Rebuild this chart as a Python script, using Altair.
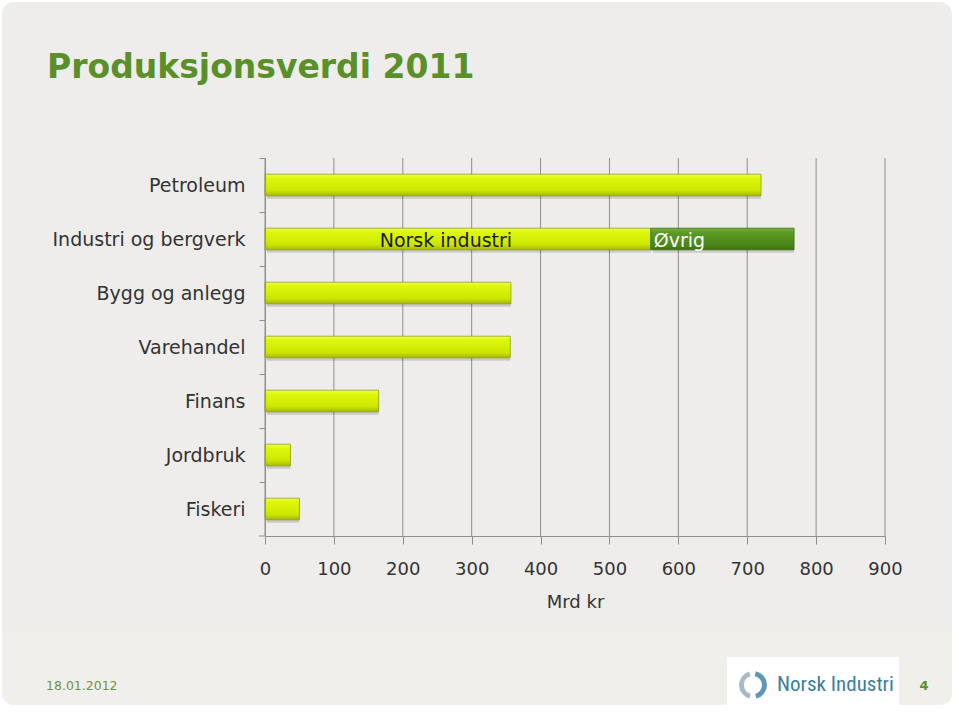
import altair as alt
import pandas as pd

# ---- data ----
categories = ["Petroleum", "Industri og bergverk", "Bygg og anlegg", "Varehandel",
              "Finans", "Jordbruk", "Fiskeri"]
main_values = [720, 560, 357, 356, 165, 37, 50]      # yellow segment (Mrd kr)
ovrig_values = [0, 208, 0, 0, 0, 0, 0]                # green "Øvrig" segment
segment_labels = ["Norsk industri", "Øvrig"]
x_ticks = [0, 100, 200, 300, 400, 500, 600, 700, 800, 900]
title_text = ["Produksjonsverdi 2011"]
date_text = ["18.01.2012"]
page_text = ["4"]
logo_text = ["Norsk Industri"]
axis_title = "Mrd kr"

FONT = "DejaVu Sans"

yellow = pd.DataFrame({"category": categories, "start": [0] * 7, "end": main_values})
green_rows = [(c, m, m + o) for c, m, o in zip(categories, main_values, ovrig_values) if o > 0]
green = pd.DataFrame(green_rows, columns=["category", "start", "end"])
lab_yellow = pd.DataFrame({"category": [green_rows[0][0]], "mid": [green_rows[0][1] / 2],
                           "label": [segment_labels[0]]})
lab_green = pd.DataFrame({"category": [green_rows[0][0]], "start": [green_rows[0][1]],
                          "label": [segment_labels[1]]})
grid_df = pd.DataFrame({"start": x_ticks})

one = pd.DataFrame({"k": [0]})

x_enc = alt.X("start:Q",
              scale=alt.Scale(domain=[0, 900], nice=False, zero=True),
              axis=alt.Axis(values=x_ticks, title=axis_title, format="d", zindex=1,
                            grid=False, labelFlush=False,
                            domainColor="#8f8f8f", tickColor="#8f8f8f", tickSize=8,
                            labelFont=FONT, labelFontSize=18, labelColor="#333333",
                            labelPadding=16, titleFont=FONT, titleFontSize=18,
                            titleFontWeight="normal", titleColor="#333333",
                            titlePadding=15))
y_enc = alt.Y("category:N", sort=categories,
              scale=alt.Scale(domain=categories, paddingInner=0.6, paddingOuter=0.3),
              axis=alt.Axis(title=None, tickOffset=-27, labelOffset=27, tickSize=6,
                            labelPadding=14, zindex=1, labelLimit=400,
                            labelFont=FONT, labelFontSize=19, labelColor="#333333",
                            domainColor="#8f8f8f", tickColor="#8f8f8f", grid=False))

# ---- decorations (panel, footer) ----
panel = alt.Chart(one).mark_rect(fill="#EEEDEB", cornerRadius=12).encode(
    x=alt.value(-263), x2=alt.value(687), y=alt.value(-156), y2=alt.value(547))
footer_band = alt.Chart(one).mark_rect(fill="#F1EFEC", cornerRadiusBottomLeft=12,
                                       cornerRadiusBottomRight=12).encode(
    x=alt.value(-263), x2=alt.value(687), y=alt.value(474), y2=alt.value(547))
logo_box = alt.Chart(one).mark_rect(fill="#FFFFFF").encode(
    x=alt.value(462), x2=alt.value(634), y=alt.value(499), y2=alt.value(554))

title = alt.Chart(pd.DataFrame({"t": title_text})).mark_text(
    align="left", baseline="middle", font=FONT, fontSize=33, fontWeight="bold",
    color="#5B8F29").encode(x=alt.value(-218), y=alt.value(-90), text="t:N")
date = alt.Chart(pd.DataFrame({"t": date_text})).mark_text(
    align="left", baseline="middle", font=FONT, fontSize=12.5,
    color="#6E9440").encode(x=alt.value(-219), y=alt.value(528), text="t:N")
page = alt.Chart(pd.DataFrame({"t": page_text})).mark_text(
    align="center", baseline="middle", font=FONT, fontSize=13, fontWeight="bold",
    color="#5B8F29").encode(x=alt.value(659), y=alt.value(528), text="t:N")
logo = alt.Chart(pd.DataFrame({"t": logo_text})).mark_text(
    align="left", baseline="middle", font="Liberation Sans Narrow, Roboto Condensed, Roboto",
    fontSize=21, color="#3C7E9C").encode(x=alt.value(512), y=alt.value(527), text="t:N")
icon1 = alt.Chart(one).mark_arc(theta=0.2, theta2=2.9, radius=14, radius2=9,
                                color="#5F97B8").encode(x=alt.value(488), y=alt.value(527))
icon2 = alt.Chart(one).mark_arc(theta=3.4, theta2=6.0, radius=14, radius2=9,
                                color="#A9BAC6").encode(x=alt.value(488), y=alt.value(527))

# ---- gridlines (behind bars) ----
grid = alt.Chart(grid_df).mark_rule(color="#8f8f8f", strokeWidth=1).encode(
    x=x_enc, y=alt.value(0), y2=alt.value(378))
bottom_tick = alt.Chart(one).mark_rule(color="#8f8f8f", strokeWidth=1).encode(
    x=alt.value(-6), x2=alt.value(0), y=alt.value(378))

# ---- bars ----
yellow_grad = alt.Gradient(gradient="linear", x1=0, x2=0, y1=0, y2=1, stops=[
    alt.GradientStop(offset=0, color="#F0FF4A"),
    alt.GradientStop(offset=0.18, color="#DDF70C"),
    alt.GradientStop(offset=0.75, color="#CDE600"),
    alt.GradientStop(offset=1, color="#A4B80A")])
green_grad = alt.Gradient(gradient="linear", x1=0, x2=0, y1=0, y2=1, stops=[
    alt.GradientStop(offset=0, color="#78B03E"),
    alt.GradientStop(offset=0.2, color="#5C9A26"),
    alt.GradientStop(offset=0.8, color="#4A8618"),
    alt.GradientStop(offset=1, color="#3A6E10")])

shadow_y = alt.Chart(yellow).mark_bar(color="#000000", opacity=0.15, xOffset=2, yOffset=3).encode(
    x="start:Q", x2="end:Q", y=y_enc)
shadow_g = alt.Chart(green).mark_bar(color="#000000", opacity=0.15, xOffset=2, yOffset=3).encode(
    x="start:Q", x2="end:Q", y=alt.Y("category:N", sort=categories))
bars_y = alt.Chart(yellow).mark_bar(color=yellow_grad, stroke="#8E9E1E", strokeWidth=0.8).encode(
    x="start:Q", x2="end:Q", y=y_enc)
bars_g = alt.Chart(green).mark_bar(color=green_grad, stroke="#3C6A14", strokeWidth=0.8).encode(
    x="start:Q", x2="end:Q", y=alt.Y("category:N", sort=categories))

text_y = alt.Chart(lab_yellow).mark_text(
    align="center", baseline="middle", font=FONT, fontSize=19, color="#1A1A1A", dx=-12, dy=2
).encode(x="mid:Q", y=alt.Y("category:N", sort=categories), text="label:N")
text_g = alt.Chart(lab_green).mark_text(
    align="left", baseline="middle", font=FONT, fontSize=19, color="#FFFFFF", dx=3, dy=2
).encode(x="start:Q", y=alt.Y("category:N", sort=categories), text="label:N")

chart = alt.layer(
    panel, footer_band, logo_box, title, date, page, logo, icon1, icon2,
    grid, bottom_tick, shadow_y, shadow_g, bars_y, bars_g, text_y, text_g
).properties(
    width=620, height=378,
    padding={"left": 265, "top": 158, "right": 74, "bottom": 176},
    autosize=alt.AutoSizeParams(type="none"),
    background="#FFFFFF"
).configure_view(strokeWidth=0)

chart.save("out.html", embed_options={"renderer": "svg", "actions": False})
